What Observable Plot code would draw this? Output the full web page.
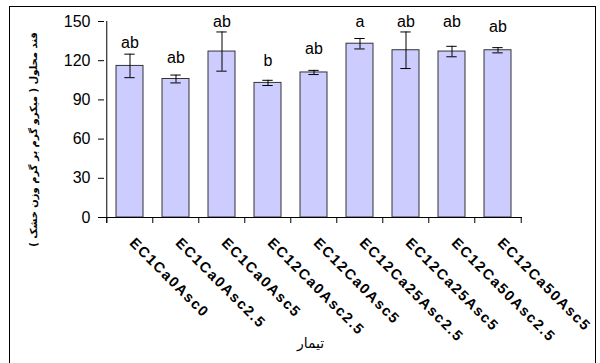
<!DOCTYPE html>
<html>
<head>
<meta charset="utf-8">
<script src="https://cdn.jsdelivr.net/npm/d3@7"></script>
<script src="https://cdn.jsdelivr.net/npm/@observablehq/plot@0.6"></script>
<style>
  html, body { margin: 0; padding: 0; background: #fff; }
  #wrap { position: relative; width: 600px; height: 363px; overflow: hidden; }
  #box { position: absolute; left: 9px; top: 6px; width: 587px; height: 400px;
         border: 1.5px solid #000; box-sizing: border-box; pointer-events: none; }
  g[aria-description="treatments"] text { letter-spacing: 1.6px; }
</style>
</head>
<body>
<div id="wrap"><div id="box"></div></div>
<script>
// Treatments (EC level, Ca and ascorbate doses)
const treatments = [
  "EC1Ca0Asc0", "EC1Ca0Asc2.5", "EC1Ca0Asc5", "EC12Ca0Asc2.5", "EC12Ca0Asc5",
  "EC12Ca25Asc2.5", "EC12Ca25Asc5", "EC12Ca50Asc2.5", "EC12Ca50Asc5"
];
// Soluble sugar, µg per g dry weight
const sugar = [116, 106, 127, 103, 111, 133, 128, 127, 128];
// Standard error
const se = [9, 3, 15, 2, 1.6, 4, 14, 4, 2];
// Mean-separation letters and the height they sit at
const letters = ["ab", "ab", "ab", "b", "ab", "a", "ab", "ab", "ab"];
const letterY = [134, 122, 150, 120, 129, 150, 150, 150, 146];
const yTicks = [0, 30, 60, 90, 120, 150];

// Right-to-left marks keep the parentheses on the right side of the Persian run
const RLM = "\u200F";
const yTitle = RLM + "قند محلول ( میکرو گرم بر گرم وزن خشک )" + RLM;
const xTitle = "تیمار";

const rows = treatments.map((t, i) => ({
  t, v: sugar[i], lo: sugar[i] - se[i], hi: sugar[i] + se[i], letter: letters[i], ly: letterY[i]
}));

const W = 600, H = 363, mL = 104, mR = 78, mT = 21, mB = 146;
const step = (W - mL - mR) / treatments.length;
const font = "'Liberation Sans', Arial, sans-serif";

const chart = Plot.plot({
  width: W, height: H,
  marginLeft: mL, marginRight: mR, marginTop: mT, marginBottom: mB,
  style: { fontFamily: font, background: "transparent", color: "#000" },
  x: { domain: treatments, paddingInner: 0.42, paddingOuter: 0.21, axis: null },
  y: { domain: [0, 150], axis: null },
  marks: [
    Plot.barY(rows, { x: "t", y: "v", fill: "#ccccff", stroke: "#333", strokeWidth: 1 }),
    Plot.ruleX(rows, { x: "t", y1: "lo", y2: "hi", stroke: "#000", strokeWidth: 1 }),
    Plot.tickY(rows, { x: "t", y: "lo", stroke: "#000", insetLeft: 18.7, insetRight: 18.7 }),
    Plot.tickY(rows, { x: "t", y: "hi", stroke: "#000", insetLeft: 18.7, insetRight: 18.7 }),
    Plot.text(rows, { x: "t", y: "ly", text: "letter", fontSize: 16, fill: "#000" }),
    // axis lines
    Plot.ruleY([0], { stroke: "#000", strokeWidth: 1 }),
    Plot.ruleX([treatments[0]], { y1: 150, y2: 0, dx: -step / 2, insetBottom: -6, stroke: "#000" }),
    // category boundary ticks
    Plot.ruleX(treatments, { x: d => d, y1: 0, y2: 0, dx: -step / 2, insetBottom: -6, stroke: "#000" }),
    Plot.ruleX([treatments[treatments.length - 1]], { y1: 0, y2: 0, dx: step / 2, insetBottom: -6, stroke: "#000" }),
    Plot.axisY({ ticks: yTicks, tickSize: 6, tickPadding: 8, fontSize: 16, label: null, tickFormat: d => d }),
    Plot.text(treatments, {
      x: d => d, y: 0, text: d => d, rotate: 45, textAnchor: "start",
      dx: 2, dy: 23, fontSize: 14.5, fontWeight: "bold", fill: "#000",
      ariaDescription: "treatments"
    }),
    Plot.text([yTitle], {
      text: d => d, frameAnchor: "left", textAnchor: "middle", rotate: -90, dx: -71, dy: 20,
      fontSize: 10, fontWeight: "bold", fontFamily: "'DejaVu Sans', sans-serif", fill: "#000"
    }),
    Plot.text([xTitle], {
      text: d => d, frameAnchor: "bottom", dx: -3, dy: 130,
      fontSize: 14, fontFamily: "'DejaVu Sans', sans-serif", fill: "#000"
    })
  ]
});
chart.style.position = "absolute";
chart.style.left = "0px";
chart.style.top = "0px";
document.getElementById("wrap").prepend(chart);
</script>
</body>
</html>
